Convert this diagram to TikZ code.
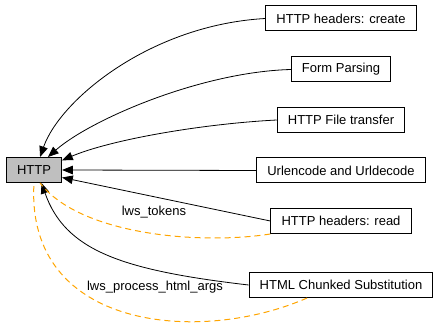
\documentclass[tikz,border=0pt]{standalone}
\usepackage{fontspec}
\setmainfont{Liberation Sans}
\usepackage{tikz}
\usetikzlibrary{arrows.meta}
\definecolor{grpfill}{HTML}{BFBFBF}
\definecolor{apiedge}{HTML}{FFA500}
\tikzset{
  grp/.style={rectangle, draw=black, fill=white, line width=0.75pt,
              minimum height=18.75pt, inner xsep=8pt, inner ysep=0pt,
              font=\fontsize{9.75pt}{11pt}\selectfont},
  cur/.style={grp, fill=grpfill},
  lbl/.style={inner sep=0pt, font=\fontsize{9.75pt}{11pt}\selectfont},
  dep/.style={-{Triangle[length=8pt, width=6.4pt]}, line width=0.6pt, black},
  api/.style={line width=0.75pt, apiedge, dash pattern=on 4.5pt off 3pt},
}

\begin{document}
\begin{tikzpicture}[x=0.75pt, y=-0.75pt]
  \useasboundingbox (0,0) rectangle (440,327);
  % groups
  \node[cur] (http) at (34,170) {HTTP};
  \node[grp] (create) at (341,18.5) {HTTP headers: create};
  \node[grp] (form) at (341,69.5) {Form Parsing};
  \node[grp] (file) at (341,120) {HTTP File transfer};
  \node[grp] (urlenc) at (341,170.5) {Urlencode and Urldecode};
  \node[grp] (read) at (341,221) {HTTP headers: read};
  \node[grp] (chunk) at (341,285) {HTML Chunked Substitution};
  % subgroup edges
  \draw[dep] (create.west) .. controls (150,25) and (60,100) .. (http.65);
  \draw[dep] (form.west) .. controls (200,72) and (90,120) .. (http.43);
  \draw[dep] (file.west) .. controls (200,124) and (110,140) .. (http.19);
  \draw[dep] (urlenc.west) -- (http.east);
  \draw[dep] (read.west) -- (http.-15);
  \draw[dep] (chunk.west) .. controls (120,270) and (65,250) .. (http.-60);
  % functions shared with the group
  \draw[api] (read.south west) .. controls (200,245) and (80,235) .. (http.-65);
  \draw[api] (chunk.-159) .. controls (200,345) and (25,330) .. (http.-90);
  \node[lbl] (tok) at (154,212) {lws\_tokens};
  \node[lbl] (args) at (155,287) {lws\_process\_html\_args};
\end{tikzpicture}
\end{document}
